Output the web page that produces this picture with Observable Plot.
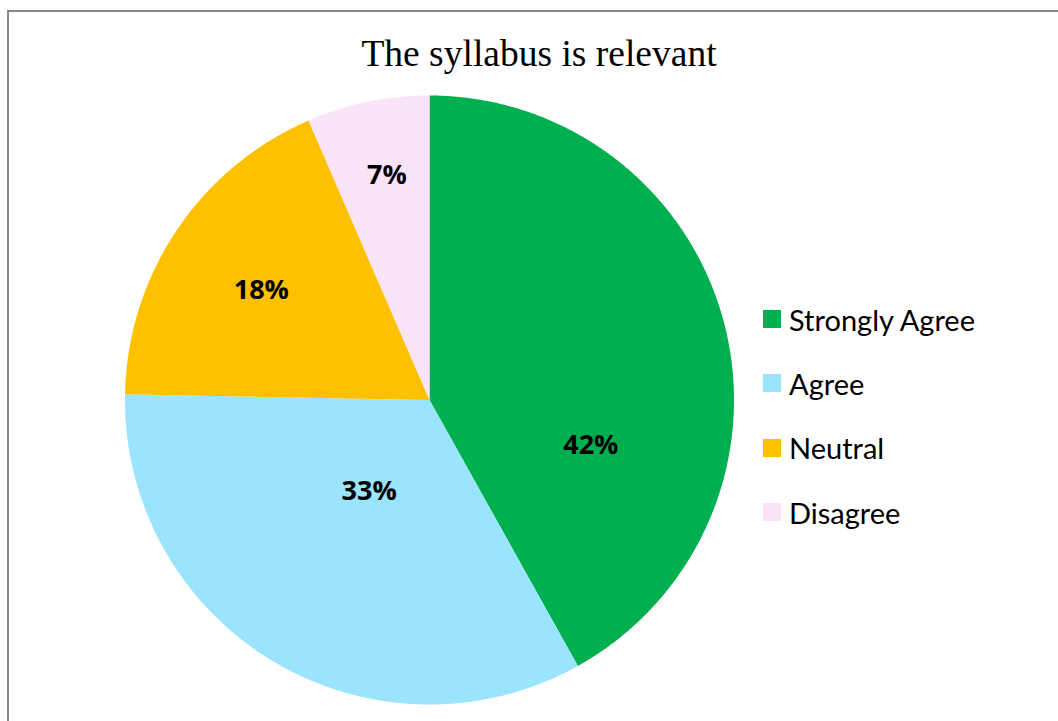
<!DOCTYPE html>
<html>
<head>
<meta charset="utf-8">
<script src="https://cdn.jsdelivr.net/npm/d3@7"></script>
<script src="https://cdn.jsdelivr.net/npm/@observablehq/plot@0.6"></script>
<style>
  html, body { margin: 0; padding: 0; background: #fff; }
  #wrap { position: relative; width: 1058px; height: 721px; overflow: hidden; background: #fff; }
  #frame { position: absolute; left: 7px; top: 10px; width: 1200px; height: 900px; border: 2px solid #888; box-sizing: border-box; }
  #title { position: absolute; left: 0; width: 1078px; top: 31px; text-align: center; font-family: "Liberation Serif", serif; font-size: 37.5px; color: #000; line-height: 46px; }
  #chart { position: absolute; left: 0; top: 0; }
  #legend { position: absolute; left: 763px; top: 287px; font-family: Lato, sans-serif; font-size: 29px; color: #000; }
  .item { display: flex; align-items: center; height: 64.3px; }
  .sw { width: 18px; height: 18px; margin-right: 8px; flex: none; }
</style>
</head>
<body>
<div id="wrap">
  <div id="frame"></div>
  <div id="title"></div>
  <div id="chart"></div>
  <div id="legend"></div>
</div>
<script>
// ---- data ----
const title = "The syllabus is relevant";
const categories = ["Strongly Agree", "Agree", "Neutral", "Disagree"];
const values = [41.9, 33.4, 18.2, 6.5];
const labels = ["42%", "33%", "18%", "7%"];
const colors = ["#00B050", "#9AE4FE", "#FFC000", "#FBE4F8"];

// ---- layout / style ----
const W = 1058, H = 721;
const cx = 429, cy = 399.5, R = 304.5;
// label placement within each slice: t = fraction of slice angle, r = fraction of radius
const labelPlace = [{t: 0.70, r: 0.55}, {t: 0.52, r: 0.36}, {t: 0.49, r: 0.66}, {t: 0.54, r: 0.75}];

document.getElementById("title").textContent = title;

const table = categories.map((c, i) => ({cat: c, value: values[i], label: labels[i]}));
const arcs = d3.pie().sort(null).value(d => d.value).startAngle(0).endAngle(2 * Math.PI)(table);

const pts = [];
arcs.forEach(a => {
  const n = Math.max(8, Math.ceil((a.endAngle - a.startAngle) / 0.004));
  pts.push({cat: a.data.cat, x: 0, y: 0});
  for (let k = 0; k <= n; k++) {
    const th = a.startAngle + (a.endAngle - a.startAngle) * k / n;
    pts.push({cat: a.data.cat, x: Math.sin(th), y: Math.cos(th)});
  }
  pts.push({cat: a.data.cat, x: 0, y: 0});
});

const labelPts = arcs.map((a, i) => {
  const p = labelPlace[i];
  const th = a.startAngle + (a.endAngle - a.startAngle) * p.t;
  return {label: a.data.label, x: p.r * Math.sin(th), y: p.r * Math.cos(th)};
});

const plot = Plot.plot({
  width: W,
  height: H,
  marginLeft: cx - R,
  marginRight: W - (cx + R),
  marginTop: cy - R,
  marginBottom: H - (cy + R),
  x: {domain: [-1, 1], axis: null},
  y: {domain: [-1, 1], axis: null},
  color: {domain: categories, range: colors},
  style: {background: "transparent", overflow: "visible"},
  marks: [
    Plot.line(pts, {x: "x", y: "y", z: "cat", fill: "cat", stroke: "none", curve: "linear"}),
    Plot.text(labelPts, {x: "x", y: "y", text: "label", fontFamily: "Open Sans", fontWeight: "bold", fontSize: 27, fill: "#000"})
  ]
});
document.getElementById("chart").appendChild(plot);

const leg = d3.select("#legend");
categories.forEach((c, i) => {
  const it = leg.append("div").attr("class", "item");
  it.append("div").attr("class", "sw").style("background", plot.scale("color").apply(c));
  it.append("span").text(c);
});
</script>
</body>
</html>
